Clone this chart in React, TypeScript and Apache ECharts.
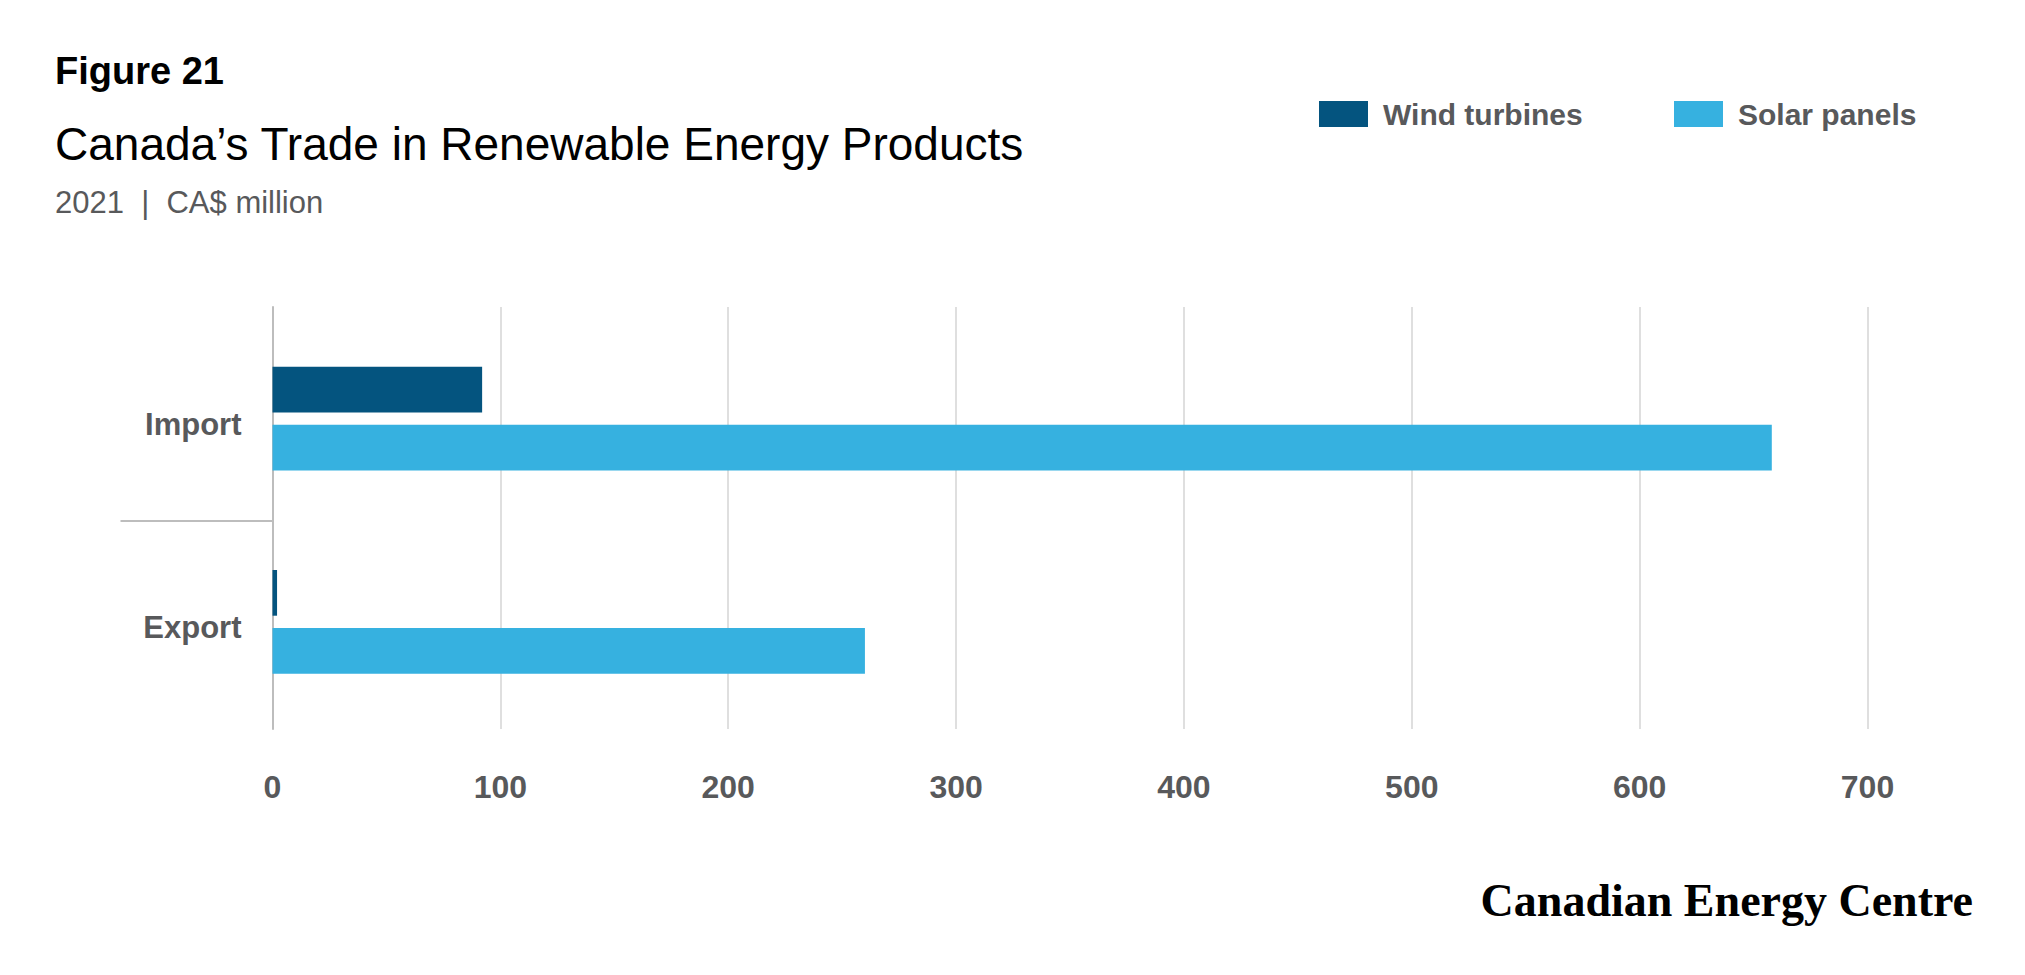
import React, { useEffect, useRef } from "react";
import * as echarts from "echarts";

const categories = ["Import", "Export"];
const seriesNames = ["Wind turbines", "Solar panels"];
const windTurbines = [92, 2];
const solarPanels = [658, 260];
const xTicks = [0, 100, 200, 300, 400, 500, 600, 700];

const figureLabel = "Figure 21";
const titleText = "Canada’s Trade in Renewable Energy Products";
const subtitleText = "2021  |  CA$ million";
const sourceText = "Canadian Energy Centre";

const WIND = "#04547f";
const SOLAR = "#36b1e0";
const LABEL = "#58595b";
const GRID = "#d5d5d5";
const AXIS = "#bdbdbd";
const SANS = '"Liberation Sans", Arial, sans-serif';
const SERIF = '"Liberation Serif", "Times New Roman", serif';

export default function App() {
  const ref = useRef<HTMLDivElement>(null);

  useEffect(() => {
    if (!ref.current) return;
    const chart = echarts.init(ref.current, null, { renderer: "svg" });
    const xMin = xTicks[0];
    const xMax = xTicks[xTicks.length - 1];
    const xInterval = xTicks[1] - xTicks[0];

    const option: any = {
      animation: false,
      backgroundColor: "#ffffff",
      graphic: [
        {
          type: "text",
          left: 55,
          top: 52,
          style: { text: figureLabel, fontFamily: SANS, fontWeight: "bold", fontSize: 38, fill: "#000" },
        },
        {
          type: "text",
          left: 55,
          top: 121,
          style: { text: titleText, fontFamily: SANS, fontWeight: "normal", fontSize: 46, fill: "#000" },
        },
        {
          type: "text",
          left: 55,
          top: 187,
          style: { text: subtitleText, fontFamily: SANS, fontWeight: "normal", fontSize: 31, fill: LABEL },
        },
        {
          type: "text",
          right: 52,
          top: 877,
          style: { text: sourceText, fontFamily: SERIF, fontWeight: "bold", fontSize: 46, fill: "#000" },
        },
      ],
      legend: [
        {
          data: [seriesNames[0]],
          left: 1319,
          top: 99,
          padding: 0,
          icon: "rect",
          itemWidth: 49,
          itemHeight: 26,
          selectedMode: false,
          textStyle: { color: LABEL, fontFamily: SANS, fontWeight: "bold", fontSize: 30, padding: [0, 0, 0, 10] },
        },
        {
          data: [seriesNames[1]],
          left: 1674,
          top: 99,
          padding: 0,
          icon: "rect",
          itemWidth: 49,
          itemHeight: 26,
          selectedMode: false,
          textStyle: { color: LABEL, fontFamily: SANS, fontWeight: "bold", fontSize: 30, padding: [0, 0, 0, 10] },
        },
      ],
      grid: [
        { left: 272.5, right: 157.5, top: 307, bottom: 246, containLabel: false },
        { left: 272.5, right: 157.5, top: 317, bottom: 251.5, containLabel: false },
        { left: 272.5, right: 157.5, top: 323, bottom: 245.5, containLabel: false },
      ],
      xAxis: [
        {
          type: "value",
          gridIndex: 0,
          min: xMin,
          max: xMax,
          interval: xInterval,
          axisLine: { show: false },
          axisTick: { show: false },
          splitLine: { show: true, lineStyle: { color: GRID, width: 1.5 } },
          axisLabel: {
            margin: 42,
            color: LABEL,
            fontFamily: SANS,
            fontWeight: "bold",
            fontSize: 32,
          },
        },
        {
          type: "value",
          gridIndex: 1,
          min: xMin,
          max: xMax,
          interval: xInterval,
          show: false,
          splitLine: { show: false },
        },
        {
          type: "value",
          gridIndex: 2,
          min: xMin,
          max: xMax,
          interval: xInterval,
          show: false,
          splitLine: { show: false },
        },
      ],
      yAxis: [
        {
          type: "category",
          gridIndex: 0,
          position: "left",
          data: categories,
          inverse: true,
          axisLine: { show: true, lineStyle: { color: AXIS, width: 2 } },
          axisTick: { show: false },
          axisLabel: { show: false },
          splitLine: { show: false },
        },
        {
          type: "category",
          gridIndex: 1,
          position: "left",
          data: categories,
          inverse: true,
          axisLine: { show: false },
          axisTick: { show: false },
          splitLine: { show: false },
          axisLabel: { show: false },
        },
        {
          type: "category",
          gridIndex: 1,
          position: "left",
          data: ["", "", ""],
          boundaryGap: false,
          axisLine: { show: false },
          axisLabel: { show: false },
          splitLine: { show: false },
          axisTick: {
            show: true,
            inside: false,
            length: 152,
            interval: (i: number) => i === 1,
            lineStyle: { color: AXIS, width: 2 },
          },
        },
        {
          type: "category",
          gridIndex: 2,
          position: "left",
          data: categories,
          inverse: true,
          axisLine: { show: false },
          axisTick: { show: false },
          splitLine: { show: false },
          axisLabel: {
            margin: 31,
            color: LABEL,
            fontFamily: SANS,
            fontWeight: "bold",
            fontSize: 31,
          },
        },
      ],
      series: [
        {
          name: seriesNames[0],
          type: "bar",
          xAxisIndex: 1,
          yAxisIndex: 1,
          data: windTurbines,
          barWidth: 45.7,
          barGap: "27%",
          itemStyle: { color: WIND },
          emphasis: { disabled: true },
        },
        {
          name: seriesNames[1],
          type: "bar",
          xAxisIndex: 1,
          yAxisIndex: 1,
          data: solarPanels,
          barWidth: 45.7,
          barGap: "27%",
          itemStyle: { color: SOLAR },
          emphasis: { disabled: true },
        },
      ],
    };

    chart.setOption(option);
    return () => {
      chart.dispose();
    };
  }, []);

  return (
    <div
      ref={ref}
      style={{ position: "fixed", left: 0, top: 0, width: 2025, height: 975, background: "#fff" }}
    />
  );
}
